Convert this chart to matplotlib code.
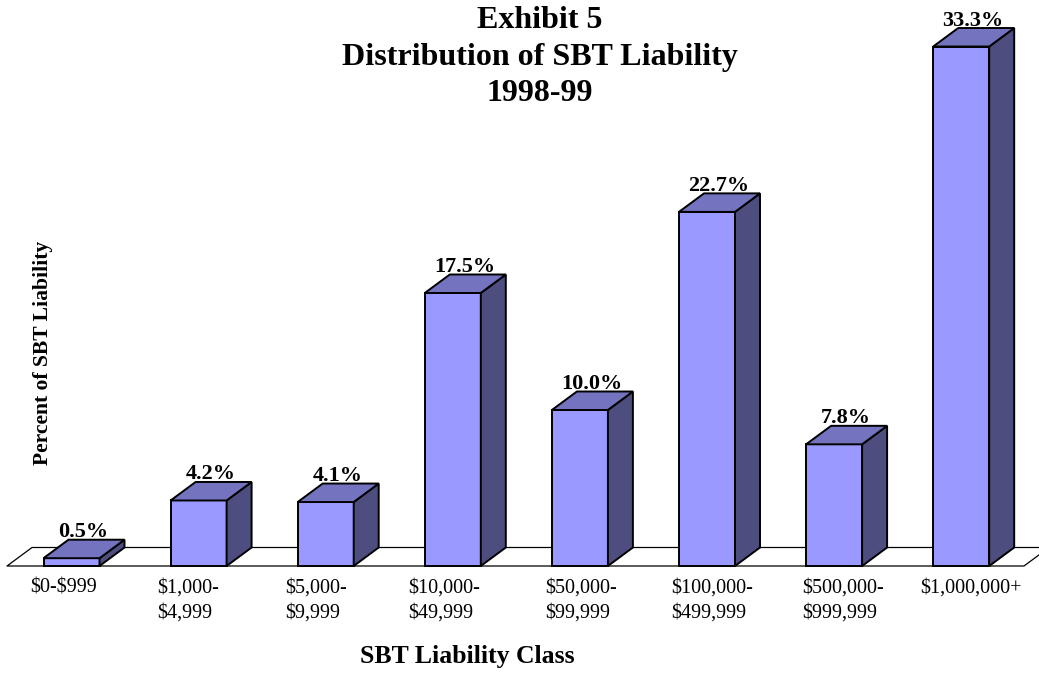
import matplotlib
matplotlib.use('Agg')
import matplotlib.pyplot as plt

# Значения с картинки
classes = ['$0-$999', '$1,000-\n$4,999', '$5,000-\n$9,999', '$10,000-\n$49,999',
           '$50,000-\n$99,999', '$100,000-\n$499,999', '$500,000-\n$999,999', '$1,000,000+']
percent = [0.5, 4.2, 4.1, 17.5, 10.0, 22.7, 7.8, 33.3]

title_lines = 'Exhibit 5\nDistribution of SBT Liability\n1998-99'
xlabel = 'SBT Liability Class'
ylabel = 'Percent of SBT Liability'

W, H = 1039, 673
x0, step = 71.5, 127.1    # центр первого столбца и шаг, пиксели
y0, scale = 566.0, 15.6   # базовая линия и пикселей на процент
half = 28 / step          # полуширина столбца
dx, dy = 25 / step, 18.5 / scale   # смещение глубины

# левый край подписей категорий, пиксели
label_left = [30, 157, 285, 408, 545, 671, 802, 920]

front = '#9999ff'
top = '#7373bf'
side = '#4d4d80'

plt.rcParams['font.family'] = ['Liberation Serif', 'DejaVu Serif']

fig = plt.figure(figsize=(W / 100, H / 100), dpi=100)
ax = fig.add_axes([0, 0, 1, 1])
ax.set_xlim(-x0 / step, (W - x0) / step)
ax.set_ylim(-(H - y0) / scale, y0 / scale)
ax.axis('off')

# пол диаграммы, под столбцами
xl = (7 - x0) / step
xr = (1024 - x0) / step
ax.plot([xr + dx, xl + dx, xl, xr, xr + dx], [dy, dy, 0, 0, dy], color='black', lw=0.9, zorder=0)

for i, v in enumerate(percent):
    l, r = i - half, i + half
    ax.fill([l, r, r, l], [0, 0, v, v], facecolor=front, edgecolor='black', lw=1.4)
    ax.fill([r, r + dx, r + dx, r], [0, dy, v + dy, v], facecolor=side, edgecolor='black', lw=1.4)
    ax.fill([l, r, r + dx, l + dx], [v, v, v + dy, v + dy], facecolor=top, edgecolor='black', lw=1.4)
    ax.text(i + 12 / step, v + dy + 2.5 / scale, '%.1f%%' % v, ha='center', va='baseline',
            fontsize=16, fontweight='bold', color='black')
    ax.text((label_left[i] - x0) / step, -13 / scale, classes[i].replace('$', r'\$'),
            ha='left', va='top', fontsize=14.5, linespacing=1.38)

fig.text(540 / W, 1 - 57 / H, title_lines, ha='center', va='center', fontsize=23,
         fontweight='bold', linespacing=1.34)
fig.text(467.5 / W, 1 - 656.5 / H, xlabel, ha='center', va='center', fontsize=18.5, fontweight='bold')
fig.text(43 / W, 1 - 352.5 / H, ylabel, ha='center', va='center', rotation=90, fontsize=15.6, fontweight='bold')

fig.savefig('out.png', dpi=100)
